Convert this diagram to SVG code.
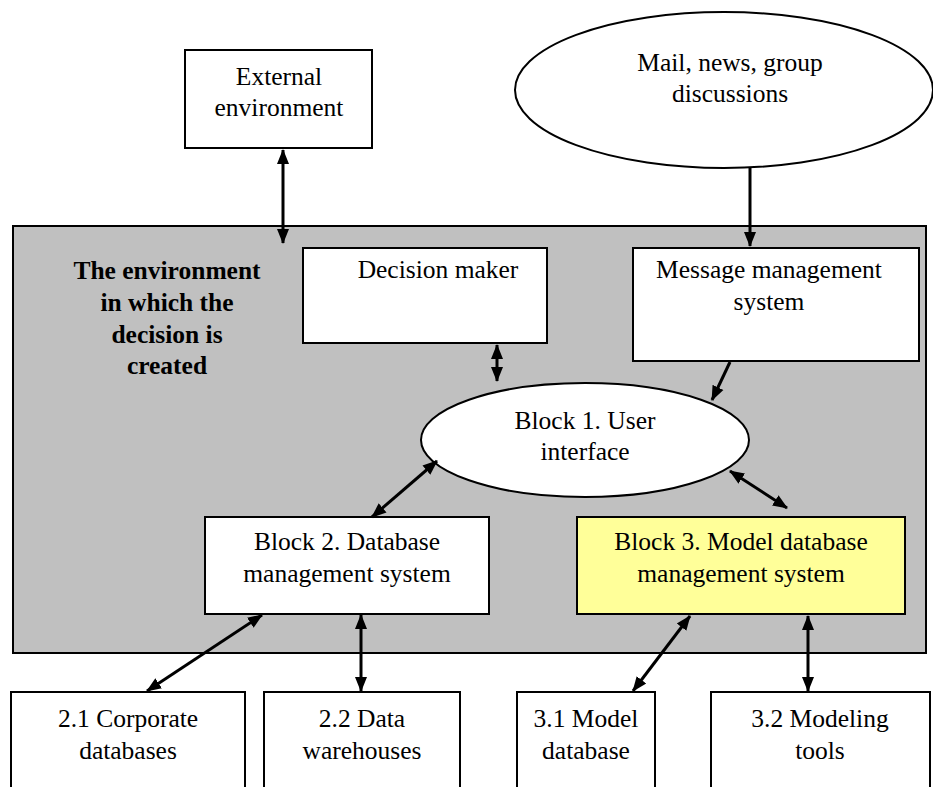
<svg xmlns="http://www.w3.org/2000/svg" width="933" height="787" viewBox="0 0 933 787">
<style>
  .box { fill: #ffffff; stroke: #000000; stroke-width: 2; }
  .yel { fill: #ffff99; stroke: #000000; stroke-width: 2; }
  .panel { fill: #c0c0c0; stroke: #000000; stroke-width: 2; }
  text { font-family: "Liberation Serif", "Times New Roman", serif; font-size: 25.5px; fill: #000000; text-anchor: middle; }
  .bold { font-weight: bold; }
  .conn line { stroke: #000000; stroke-width: 3; }
  .bi { marker-start: url(#ah); marker-end: url(#ah); }
  .uni { marker-end: url(#ah); }
</style>
<defs>
  <marker id="ah" markerUnits="userSpaceOnUse" markerWidth="16" markerHeight="14" viewBox="0 0 16 14" refX="14" refY="7" orient="auto-start-reverse">
    <path d="M0,1 L15,7 L0,13 z" fill="#000000"/>
  </marker>
</defs>
<rect width="933" height="787" fill="#ffffff"/>

<g id="environment-panel">
  <rect class="panel" x="13" y="226" width="913" height="427"/>
  <text class="bold" x="167" y="279">The environment</text>
  <text class="bold" x="167" y="311">in which the</text>
  <text class="bold" x="167" y="343">decision is</text>
  <text class="bold" x="167" y="374">created</text>
</g>

<g id="external-environment">
  <rect class="box" x="185" y="50" width="187" height="98"/>
  <text x="279" y="85">External</text>
  <text x="279" y="116">environment</text>
</g>

<g id="mail-news">
  <ellipse class="box" cx="724" cy="90" rx="209" ry="78"/>
  <text x="730" y="71">Mail, news, group</text>
  <text x="730" y="102">discussions</text>
</g>

<g id="decision-maker">
  <rect class="box" x="303" y="248" width="244" height="95"/>
  <text x="438" y="278">Decision maker</text>
</g>

<g id="message-management">
  <rect class="box" x="633" y="248" width="286" height="113"/>
  <text x="769" y="278">Message management</text>
  <text x="769" y="310">system</text>
</g>

<g id="block1">
  <ellipse class="box" cx="585" cy="440" rx="164" ry="57"/>
  <text x="585" y="429">Block 1. User</text>
  <text x="585" y="460">interface</text>
</g>

<g id="block2">
  <rect class="box" x="205" y="517" width="284" height="97"/>
  <text x="347" y="550">Block 2. Database</text>
  <text x="347" y="582">management system</text>
</g>

<g id="block3">
  <rect class="yel" x="577" y="517" width="328" height="97"/>
  <text x="741" y="550">Block 3. Model database</text>
  <text x="741" y="582">management system</text>
</g>

<g id="corporate-databases">
  <rect class="box" x="11" y="692" width="234" height="110"/>
  <text x="128" y="727">2.1 Corporate</text>
  <text x="128" y="759">databases</text>
</g>

<g id="data-warehouses">
  <rect class="box" x="264" y="692" width="196" height="110"/>
  <text x="362" y="727">2.2 Data</text>
  <text x="362" y="759">warehouses</text>
</g>

<g id="model-database">
  <rect class="box" x="517" y="692" width="138" height="110"/>
  <text x="586" y="727">3.1 Model</text>
  <text x="586" y="759">database</text>
</g>

<g id="modeling-tools">
  <rect class="box" x="711" y="692" width="219" height="110"/>
  <text x="820" y="727">3.2 Modeling</text>
  <text x="820" y="759">tools</text>
</g>

<g id="connectors" class="conn">
  <line class="bi" x1="283" y1="150" x2="283" y2="243"/>
  <line class="uni" x1="750" y1="168" x2="750" y2="246"/>
  <line class="bi" x1="497" y1="345" x2="497" y2="381"/>
  <line class="uni" x1="730" y1="362" x2="712" y2="400"/>
  <line class="bi" x1="437" y1="461" x2="372" y2="517"/>
  <line class="bi" x1="730" y1="471" x2="787" y2="508"/>
  <line class="bi" x1="262" y1="615" x2="147" y2="691"/>
  <line class="bi" x1="361" y1="615" x2="361" y2="691"/>
  <line class="bi" x1="690" y1="616" x2="633" y2="691"/>
  <line class="bi" x1="808" y1="616" x2="808" y2="691"/>
</g>
</svg>
